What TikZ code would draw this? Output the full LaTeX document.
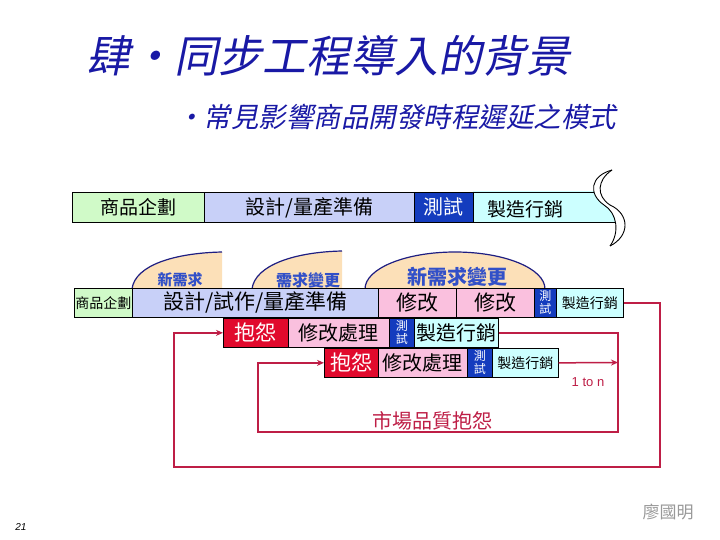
\documentclass[tikz,border=0pt]{standalone}
\usepackage{fontspec}
\setmainfont{Noto Sans CJK TC}
\newfontfamily\cjkit{Noto Sans CJK TC}[FakeSlant=0.2]
\newfontfamily\latin{Liberation Sans}
\usetikzlibrary{arrows.meta}
\definecolor{cgreen}{RGB}{208,250,200}
\definecolor{clav}{RGB}{200,208,248}
\definecolor{cblue}{RGB}{20,60,190}
\definecolor{ccyan}{RGB}{204,255,255}
\definecolor{cpink}{RGB}{250,192,222}
\definecolor{cred}{RGB}{225,10,45}
\definecolor{cconn}{RGB}{190,30,70}
\definecolor{ctitle}{RGB}{25,25,165}
\definecolor{cpeach}{RGB}{252,224,184}
\definecolor{cdome}{RGB}{30,30,130}
\definecolor{cdomet}{RGB}{50,80,200}
\newcommand\fsz[1]{\fontsize{#1}{#1}\selectfont}
\begin{document}
\begin{tikzpicture}[x=1pt,y=-1pt,
  box/.style={draw=black, line width=0.7pt, inner sep=0pt, anchor=north west, text=black, align=center},
  tbox/.style={box, fill=cblue, text=white, font=\fontsize{12}{13}\selectfont},
  conn/.style={draw=cconn, line width=1.5pt},
  arr/.style={-{Stealth[length=7pt,width=6pt]}},
  dtext/.style={text=cdomet, inner sep=0pt}]
\useasboundingbox[fill=white] (0,0) rectangle (720,540);

% titles
\node[font=\cjkit\fsz{44}, text=ctitle, anchor=west, inner sep=0pt] (title) at (86,56) {肆・同步工程導入的背景};
\node[font=\cjkit\fsz{27.5}, text=ctitle, anchor=west, inner sep=0pt] (sub) at (176,117) {・常見影響商品開發時程遲延之模式};

% row 1
\node[box, fill=cgreen, minimum width=132pt, minimum height=30pt, font=\fsz{19}] (plan1) at (72,192) {商品企劃};
\node[box, fill=clav, minimum width=210pt, minimum height=30pt, font=\fsz{20}] (des1) at (204,192) {設計/量產準備};
\begin{scope}
  \clip (473,192) rectangle (650,222);
  \fill[ccyan] (473,170) -- (612,170) .. controls (590,176) and (588,194) .. (604,205) .. controls (617,213) and (620,232) .. (610,246) -- (473,246) -- cycle;
\end{scope}
\draw[line width=0.7pt] (473,192) -- (594,192);
\draw[line width=0.7pt] (473,222) -- (615.5,222);
\node[box, fill=cblue, text=white, minimum width=59pt, minimum height=30pt, font=\fsz{20}] (test1) at (414,192) {測試};
\node[font=\fsz{19}, text=black, inner sep=0pt] (mkt1) at (525,209) {製造行銷};
\draw[line width=0.9pt] (612,170) .. controls (590,176) and (588,194) .. (604,205) .. controls (617,213) and (620,232) .. (610,246);
\draw[line width=0.9pt] (612,170) .. controls (597,180) and (596,196) .. (610,205) .. controls (630,214) and (630,236) .. (610,246);

% domes
\fill[cpeach] (132,289) .. controls (135,265) and (175,253) .. (222,252) -- (222,289) -- cycle;
\draw[cdome, line width=1.2pt] (132,289) .. controls (135,265) and (175,253) .. (222,252);
\fill[cpeach] (252,289) .. controls (255,265) and (295,252) .. (342,251) -- (342,289) -- cycle;
\draw[cdome, line width=1.2pt] (252,289) .. controls (255,265) and (295,252) .. (342,251);
\fill[cpeach] (365,289) .. controls (365,268.6) and (405.3,252) .. (455,252) .. controls (504.7,252) and (545,268.6) .. (545,289) -- cycle;
\draw[cdome, line width=1.2pt] (365,289) .. controls (365,268.6) and (405.3,252) .. (455,252) .. controls (504.7,252) and (545,268.6) .. (545,289);
\node[dtext, font=\bfseries\fsz{15}] (d1) at (180,280) {新需求};
\node[dtext, font=\bfseries\fsz{16}] (d2) at (308,280) {需求變更};
\node[dtext, font=\bfseries\fsz{20}] (d3) at (457,277) {新需求變更};

% row 2
\node[box, fill=cgreen, minimum width=58pt, minimum height=29pt, font=\fsz{14}] (plan2) at (74,288) {商品企劃};
\node[box, fill=clav, minimum width=246pt, minimum height=29pt, font=\fsz{21}] (des2) at (132,288) {設計/試作/量產準備};
\node[box, fill=cpink, minimum width=78pt, minimum height=29pt, font=\fsz{21}] (mod1) at (378,288) {修改};
\node[box, fill=cpink, minimum width=78pt, minimum height=29pt, font=\fsz{21}] (mod2) at (456,288) {修改};
\node[tbox, minimum width=22pt, minimum height=29pt] (test2) at (534,288) {測\\試};
\node[box, fill=ccyan, minimum width=67pt, minimum height=29pt, font=\fsz{14}] (mkt2) at (556,288) {製造行銷};

% row 3
\node[box, fill=cred, text=white, minimum width=65pt, minimum height=29pt, font=\fsz{21}] (cmp3) at (223,318) {抱怨};
\node[box, fill=cpink, minimum width=101pt, minimum height=29pt, font=\fsz{20}] (fix3) at (288,318) {修改處理};
\node[tbox, minimum width=25pt, minimum height=29pt] (test3) at (389,318) {測\\試};
\node[box, fill=ccyan, minimum width=84pt, minimum height=29pt, font=\fsz{20}] (mkt3) at (414,318) {製造行銷};

% row 4
\node[box, fill=cred, text=white, minimum width=54pt, minimum height=29pt, font=\fsz{21}] (cmp4) at (324,348) {抱怨};
\node[box, fill=cpink, minimum width=89pt, minimum height=29pt, font=\fsz{20}] (fix4) at (378,348) {修改處理};
\node[tbox, minimum width=25pt, minimum height=29pt] (test4) at (467,348) {測\\試};
\node[box, fill=ccyan, minimum width=66pt, minimum height=29pt, font=\fsz{14}] (mkt4) at (492,348) {製造行銷};

% connectors
\coordinate (oR) at (660,467);
\coordinate (oL) at (174,467);
\coordinate (mR) at (618,432);
\coordinate (mL) at (258,432);
\coordinate (jn) at (618,362.5);
\draw[conn, arr] (mkt2.east) -| (oR) -- (oL) |- (cmp3.west);
\draw[conn, arr] (mkt3.east) -| (mR) -- (mL) |- (cmp4.west);
\draw[conn, arr] (mkt4.east) -- (jn);
\node[text=cconn, font=\latin\fsz{13}, inner sep=0pt] (lab1) at (588,382) {1 to n};
\node[text=cconn, font=\fsz{20}, inner sep=0pt] (lab2) at (432,421) {市場品質抱怨};

% footer
\node[font=\latin\itshape\fsz{10}, inner sep=0pt] (pg) at (21,527) {21};
\node[font=\fsz{17}, text=black!40, inner sep=0pt] (auth) at (668,512) {廖國明};
\end{tikzpicture}
\end{document}
